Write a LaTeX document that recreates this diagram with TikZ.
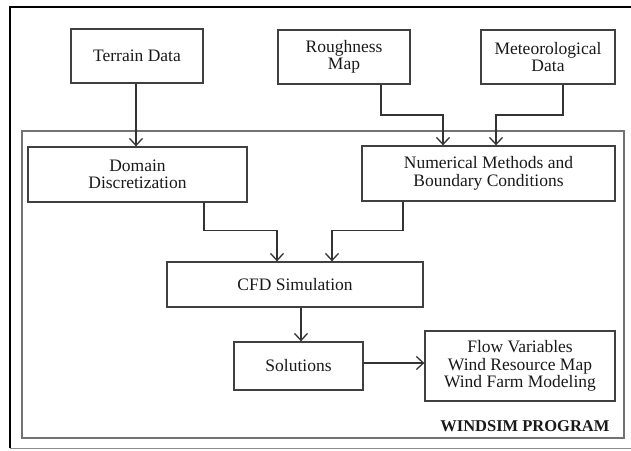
\documentclass[tikz,border=0pt]{standalone}
\usepackage{fontspec}
\setmainfont{Liberation Serif}
\usetikzlibrary{arrows.meta}
\begin{document}
\begin{tikzpicture}[x=1pt,y=-1pt,
  box/.style={draw=black!75,line width=1.3pt,rectangle,align=center,inner sep=0pt,
    font=\fontsize{17.5}{17.5}\selectfont,text=black!90},
  arr/.style={draw=black!80,line width=1.3pt,-{Straight Barb[length=7pt,width=13pt,line width=1.3pt]}},
  conn/.style={draw=black!80,line width=1.3pt}]
\useasboundingbox (0,0) rectangle (631,450);
% outer frame
\draw[black,line width=2.5pt] (10,448) -- (10,7) -- (631,7);
\draw[black!45,line width=1pt] (10,448) -- (631,448);
% inner frame
\draw[black!55,line width=1.5pt] (22,131) rectangle (624,438);
\node[font=\bfseries\fontsize{16.5}{16.5}\selectfont,anchor=east,text=black!90] (ws) at (613,426) {WINDSIM PROGRAM};
% boxes
\node[box,minimum width=132pt,minimum height=54pt] (terrain) at (137,56) {Terrain Data};
\node[box,minimum width=132pt,minimum height=54pt] (rough) at (344,57) {Roughness\\Map};
\node[box,minimum width=134pt,minimum height=54pt] (met) at (548,57) {Meteorological\\Data};
\node[box,minimum width=219pt,minimum height=55pt] (domain) at (137.5,174.5) {Domain\\Discretization};
\node[box,minimum width=253pt,minimum height=55pt] (num) at (488.5,173.5) {Numerical Methods and\\Boundary Conditions};
\node[box,minimum width=256pt,minimum height=45pt] (cfd) at (295,284.5) {CFD Simulation};
\node[box,minimum width=129pt,minimum height=48pt] (sol) at (298.5,366) {Solutions};
\node[box,minimum width=190pt,minimum height=70pt] (flow) at (520,366) {Flow Variables\\Wind Resource Map\\Wind Farm Modeling};
% helper coordinates
\coordinate (tx) at (136,0);
\coordinate (rx) at (381,0);
\coordinate (rx2) at (443,0);
\coordinate (mx) at (563,0);
\coordinate (mx2) at (496,0);
\coordinate (yA) at (0,115);
\coordinate (dx) at (204,0);
\coordinate (dx2) at (277,0);
\coordinate (nx) at (403,0);
\coordinate (nx2) at (332,0);
\coordinate (yB) at (0,230.5);
\coordinate (cx) at (301,0);
\coordinate (sy) at (0,363);
% connectors
\draw[arr] (terrain.south -| tx) -- (domain.north -| tx);
\draw[arr] (rough.south -| rx) -- (rx |- yA) -- (rx2 |- yA) -- (num.north -| rx2);
\draw[arr] (met.south -| mx) -- (mx |- yA) -- (mx2 |- yA) -- (num.north -| mx2);
\draw[arr] (domain.south -| dx) -- (dx |- yB) -- (dx2 |- yB) -- (cfd.north -| dx2);
\draw[arr] (num.south -| nx) -- (nx |- yB) -- (nx2 |- yB) -- (cfd.north -| nx2);
\draw[arr] (cfd.south -| cx) -- (sol.north -| cx);
\draw[arr] (sol.east |- sy) -- (flow.west |- sy);
\end{tikzpicture}
\end{document}
